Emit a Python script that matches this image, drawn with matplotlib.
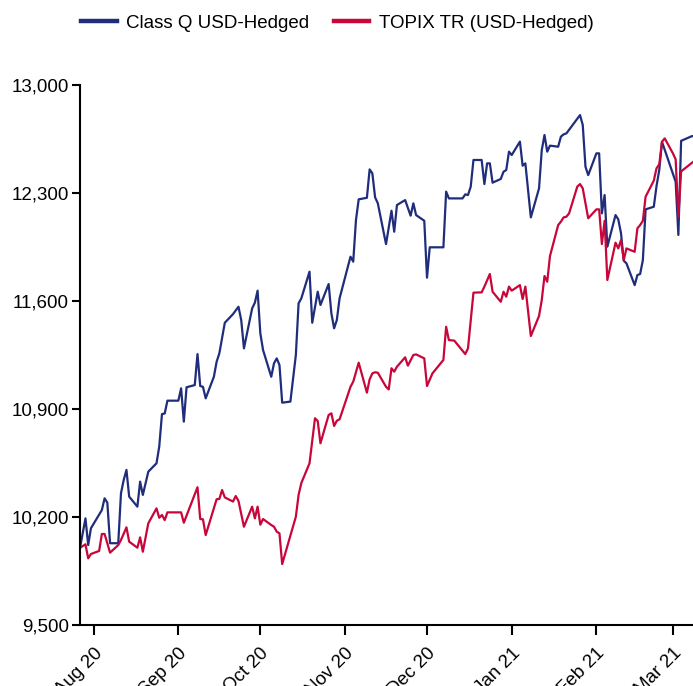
import numpy as np
import pandas as pd
import matplotlib
matplotlib.use("Agg")
import matplotlib.pyplot as plt
import matplotlib.dates as mdates
from matplotlib.ticker import FuncFormatter

plt.rcParams['font.family'] = ['Liberation Sans', 'DejaVu Sans']

# growth of 10,000 -- fund share class
fund_dates = [
    "2020-07-27", "2020-07-29", "2020-07-30", "2020-07-31", "2020-08-04", "2020-08-05",
    "2020-08-06", "2020-08-07", "2020-08-10", "2020-08-11", "2020-08-12", "2020-08-13",
    "2020-08-14", "2020-08-17", "2020-08-18", "2020-08-19", "2020-08-21", "2020-08-24",
    "2020-08-25", "2020-08-26", "2020-08-27", "2020-08-28", "2020-09-01", "2020-09-02",
    "2020-09-03", "2020-09-04", "2020-09-07", "2020-09-08", "2020-09-09", "2020-09-10",
    "2020-09-11", "2020-09-14", "2020-09-15", "2020-09-16", "2020-09-18", "2020-09-21",
    "2020-09-23", "2020-09-24", "2020-09-25", "2020-09-28", "2020-09-29", "2020-09-30",
    "2020-10-01", "2020-10-02", "2020-10-05", "2020-10-06", "2020-10-07", "2020-10-08",
    "2020-10-09", "2020-10-12", "2020-10-14", "2020-10-15", "2020-10-16", "2020-10-19",
    "2020-10-20", "2020-10-22", "2020-10-23", "2020-10-26", "2020-10-27", "2020-10-28",
    "2020-10-29", "2020-10-30", "2020-11-03", "2020-11-04", "2020-11-05", "2020-11-06",
    "2020-11-09", "2020-11-10", "2020-11-11", "2020-11-12", "2020-11-13", "2020-11-16",
    "2020-11-18", "2020-11-19", "2020-11-20", "2020-11-23", "2020-11-25", "2020-11-26",
    "2020-11-27", "2020-11-30", "2020-12-01", "2020-12-02", "2020-12-07", "2020-12-08",
    "2020-12-09", "2020-12-14", "2020-12-15", "2020-12-16", "2020-12-17", "2020-12-18",
    "2020-12-21", "2020-12-22", "2020-12-23", "2020-12-24", "2020-12-25", "2020-12-28",
    "2020-12-29", "2020-12-30", "2020-12-31", "2021-01-01", "2021-01-04", "2021-01-05",
    "2021-01-06", "2021-01-08", "2021-01-11", "2021-01-12", "2021-01-13", "2021-01-14",
    "2021-01-15", "2021-01-18", "2021-01-19", "2021-01-20", "2021-01-21", "2021-01-26",
    "2021-01-27", "2021-01-28", "2021-01-29", "2021-02-01", "2021-02-02", "2021-02-03",
    "2021-02-04", "2021-02-05", "2021-02-08", "2021-02-09", "2021-02-10", "2021-02-11",
    "2021-02-12", "2021-02-15", "2021-02-16", "2021-02-17", "2021-02-18", "2021-02-19",
    "2021-02-22", "2021-02-23", "2021-02-24", "2021-02-25", "2021-03-02", "2021-03-03",
    "2021-03-04", "2021-03-08", "2021-03-09",
]
fund_values = [
    10000, 10191, 10018, 10127, 10245, 10321, 10293, 10030, 10030, 10354, 10440, 10505,
    10332, 10267, 10429, 10343, 10494, 10548, 10656, 10867, 10871, 10954, 10954, 11034,
    10818, 11041, 11055, 11256, 11049, 11044, 10969, 11109, 11206, 11261, 11459, 11515,
    11563, 11477, 11293, 11552, 11589, 11667, 11390, 11282, 11109, 11196, 11228, 11185,
    10941, 10948, 11250, 11585, 11617, 11790, 11459, 11660, 11574, 11710, 11520, 11423,
    11477, 11617, 11887, 11855, 12125, 12259, 12269, 12453, 12427, 12272, 12233, 11969,
    12185, 12049, 12222, 12254, 12153, 12233, 12157, 12120, 11751, 11948, 11948, 12309,
    12265, 12265, 12291, 12287, 12341, 12514, 12514, 12358, 12492, 12492, 12367, 12391,
    12438, 12449, 12568, 12546, 12633, 12477, 12492, 12142, 12330, 12578, 12676, 12568,
    12607, 12600, 12665, 12680, 12686, 12805, 12741, 12470, 12416, 12557, 12557, 12168,
    12287, 11952, 12157, 12129, 12039, 11861, 11844, 11703, 11768, 11775, 11865, 12194,
    12211, 12345, 12449, 12632, 12373, 12028, 12638, 12669, 12665,
]

# growth of 10,000 -- benchmark
bench_dates = [
    "2020-07-27", "2020-07-29", "2020-07-30", "2020-07-31", "2020-08-03", "2020-08-04",
    "2020-08-05", "2020-08-07", "2020-08-10", "2020-08-11", "2020-08-13", "2020-08-14",
    "2020-08-17", "2020-08-18", "2020-08-19", "2020-08-21", "2020-08-24", "2020-08-25",
    "2020-08-26", "2020-08-27", "2020-08-28", "2020-09-02", "2020-09-03", "2020-09-08",
    "2020-09-09", "2020-09-10", "2020-09-11", "2020-09-15", "2020-09-16", "2020-09-17",
    "2020-09-18", "2020-09-21", "2020-09-22", "2020-09-23", "2020-09-25", "2020-09-28",
    "2020-09-29", "2020-09-30", "2020-10-01", "2020-10-02", "2020-10-05", "2020-10-06",
    "2020-10-07", "2020-10-08", "2020-10-09", "2020-10-14", "2020-10-15", "2020-10-16",
    "2020-10-19", "2020-10-21", "2020-10-22", "2020-10-23", "2020-10-26", "2020-10-27",
    "2020-10-28", "2020-10-29", "2020-10-30", "2020-11-03", "2020-11-04", "2020-11-06",
    "2020-11-09", "2020-11-10", "2020-11-11", "2020-11-12", "2020-11-13", "2020-11-16",
    "2020-11-17", "2020-11-18", "2020-11-19", "2020-11-20", "2020-11-23", "2020-11-24",
    "2020-11-26", "2020-11-27", "2020-11-30", "2020-12-01", "2020-12-03", "2020-12-07",
    "2020-12-08", "2020-12-09", "2020-12-11", "2020-12-15", "2020-12-16", "2020-12-18",
    "2020-12-21", "2020-12-22", "2020-12-24", "2020-12-25", "2020-12-28", "2020-12-29",
    "2020-12-30", "2020-12-31", "2021-01-01", "2021-01-04", "2021-01-05", "2021-01-06",
    "2021-01-08", "2021-01-11", "2021-01-12", "2021-01-13", "2021-01-14", "2021-01-15",
    "2021-01-18", "2021-01-19", "2021-01-20", "2021-01-21", "2021-01-22", "2021-01-25",
    "2021-01-26", "2021-01-27", "2021-01-28", "2021-01-29", "2021-02-01", "2021-02-02",
    "2021-02-03", "2021-02-04", "2021-02-05", "2021-02-08", "2021-02-09", "2021-02-10",
    "2021-02-11", "2021-02-12", "2021-02-15", "2021-02-16", "2021-02-17", "2021-02-18",
    "2021-02-19", "2021-02-22", "2021-02-23", "2021-02-24", "2021-02-25", "2021-02-26",
    "2021-03-01", "2021-03-02", "2021-03-03", "2021-03-04", "2021-03-08", "2021-03-09",
]
bench_values = [
    10000, 10023, 9932, 9960, 9980, 10090, 10090, 9969, 10018, 10051, 10133, 10040,
    10001, 10068, 9975, 10159, 10256, 10195, 10213, 10180, 10230, 10230, 10163, 10393,
    10187, 10185, 10083, 10315, 10317, 10375, 10327, 10300, 10336, 10304, 10137, 10267,
    10191, 10267, 10150, 10187, 10148, 10137, 10105, 10094, 9895, 10202, 10343, 10420,
    10548, 10840, 10822, 10678, 10861, 10872, 10790, 10824, 10833, 11044, 11077, 11200,
    11006, 11092, 11131, 11138, 11135, 11044, 11027, 11164, 11142, 11174, 11235, 11181,
    11250, 11254, 11228, 11049, 11131, 11218, 11433, 11347, 11343, 11256, 11293, 11654,
    11656, 11693, 11775, 11660, 11595, 11660, 11628, 11693, 11667, 11703, 11613, 11693,
    11373, 11503, 11606, 11762, 11725, 11891, 12092, 12114, 12142, 12146, 12168, 12341,
    12358, 12330, 12233, 12136, 12194, 12194, 11969, 12120, 11736, 11978, 11941, 11995,
    11865, 11941, 11919, 12071, 12092, 12120, 12276, 12380, 12460, 12486, 12632, 12654,
    12557, 12518, 12146, 12440, 12496, 12510,
]

series_labels = ["Class Q USD-Hedged", "TOPIX TR (USD-Hedged)"]
series_colors = ["#1f2d7b", "#c8063a"]
y_ticks = [9500, 10200, 10900, 11600, 12300, 13000]
month_ticks = pd.date_range("2020-08-01", "2021-03-01", freq="MS")

fig = plt.figure(figsize=(6.93, 6.86), dpi=100)
ax = fig.add_axes([80 / 693, 1 - 625 / 686, 1 - 80 / 693, (625 - 85) / 686])

ax.plot(pd.to_datetime(fund_dates), fund_values, color=series_colors[0], lw=1.6,
        label=series_labels[0])
ax.plot(pd.to_datetime(bench_dates), bench_values, color=series_colors[1], lw=1.6,
        label=series_labels[1])

start = pd.Timestamp("2020-07-27")
ax.set_xlim(start, start + pd.Timedelta(days=224.35))
ax.set_ylim(9500, 13000)

ax.set_yticks(y_ticks)
ax.yaxis.set_major_formatter(FuncFormatter(lambda v, p: f"{v:,.0f}"))
ax.set_xticks(month_ticks)
ax.xaxis.set_major_formatter(mdates.DateFormatter("%b %y"))
plt.setp(ax.get_xticklabels(), rotation=45, ha="right", rotation_mode="anchor")

ax.tick_params(axis="y", labelsize=13.5, length=6, width=1.5, pad=2)
ax.tick_params(axis="x", labelsize=13.5, length=7, width=1.5, pad=7)

for side in ["top", "right"]:
    ax.spines[side].set_visible(False)
for side in ["left", "bottom"]:
    ax.spines[side].set_linewidth(1.5)

leg = fig.legend(loc="center", bbox_to_anchor=(0.487, 0.966), ncol=2, frameon=False,
                 fontsize=13.5, handlelength=1.9, handletextpad=0.5, columnspacing=1.3)
for handle in leg.get_lines():
    handle.set_linewidth(3.2)

fig.savefig("out.png", dpi=100)
